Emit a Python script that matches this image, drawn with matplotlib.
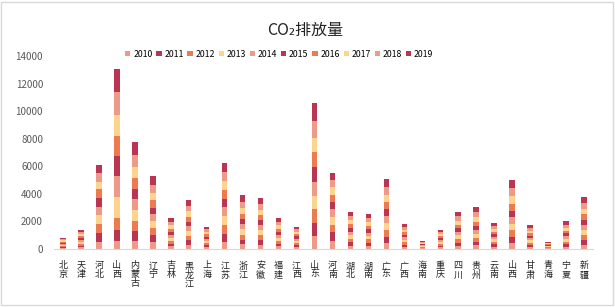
import matplotlib
matplotlib.use("Agg")
import matplotlib.pyplot as plt
import numpy as np
from matplotlib.patches import Rectangle

plt.rcParams['font.family'] = ['Noto Sans CJK SC', 'DejaVu Sans']

# 省份
provinces = ["北京", "天津", "河北", "山西", "内蒙古", "辽宁", "吉林", "黑龙江", "上海", "江苏",
             "浙江", "安徽", "福建", "江西", "山东", "河南", "湖北", "湖南", "广东", "广西",
             "海南", "重庆", "四川", "贵州", "云南", "山西", "甘肃", "青海", "宁夏", "新疆"]

years = ["2010", "2011", "2012", "2013", "2014", "2015", "2016", "2017", "2018", "2019"]

# 各年排放量
y2010 = [70, 118, 532, 605, 557, 484, 191, 303, 137, 508, 331, 315, 191, 139, 920, 557, 230, 218, 436, 156, 50, 117, 229, 257, 161, 424, 148, 45, 171, 323]
y2011 = [74, 125, 653, 800, 726, 508, 203, 321, 145, 605, 350, 333, 203, 147, 968, 653, 244, 231, 436, 166, 53, 124, 242, 272, 170, 449, 157, 48, 181, 342]
y2012 = [78, 132, 605, 850, 774, 532, 214, 339, 153, 653, 370, 352, 214, 155, 1016, 557, 257, 244, 532, 175, 56, 131, 256, 287, 180, 474, 165, 51, 191, 361]
y2013 = [78, 132, 678, 1525, 800, 484, 214, 339, 153, 653, 370, 352, 214, 155, 968, 557, 257, 244, 484, 175, 56, 131, 256, 287, 180, 474, 165, 51, 191, 361]
y2014 = [80, 135, 605, 1550, 800, 508, 218, 346, 156, 605, 377, 359, 218, 158, 968, 581, 263, 249, 484, 178, 57, 134, 261, 293, 183, 484, 169, 52, 195, 369]
y2015 = [80, 136, 653, 1450, 700, 484, 220, 350, 158, 629, 381, 363, 220, 160, 1089, 508, 266, 251, 532, 180, 58, 135, 264, 296, 185, 489, 171, 52, 197, 372]
y2016 = [82, 139, 605, 1450, 800, 532, 225, 357, 161, 653, 389, 370, 225, 163, 1089, 532, 271, 257, 508, 184, 59, 138, 269, 303, 189, 499, 174, 53, 201, 380]
y2017 = [88, 150, 557, 1525, 800, 532, 243, 386, 174, 653, 420, 400, 243, 176, 1089, 557, 293, 277, 532, 199, 64, 149, 291, 327, 204, 538, 188, 57, 217, 410]
y2018 = [93, 158, 605, 1645, 847, 557, 257, 407, 184, 653, 443, 422, 257, 186, 1210, 532, 309, 292, 557, 210, 67, 157, 307, 345, 215, 568, 199, 61, 229, 433]
y2019 = [97, 165, 605, 1695, 968, 653, 265, 422, 189, 629, 459, 434, 265, 191, 1283, 484, 320, 302, 605, 217, 70, 164, 315, 358, 223, 586, 206, 62, 236, 449]

series = [y2010, y2011, y2012, y2013, y2014, y2015, y2016, y2017, y2018, y2019]
colors = ["#EE9A88", "#BA3454", "#EE7A52", "#FDD48E"] * 3

fig = plt.figure(figsize=(6.15, 3.07), dpi=100)
ax = fig.add_axes([0.088, 0.189, 0.876, 0.627])

x = np.arange(len(provinces))
bottom = np.zeros(len(provinces))
for yr, vals, c in zip(years, series, colors):
    ax.bar(x, vals, width=0.3, bottom=bottom, color=c, label=yr)
    bottom += np.array(vals)

ax.set_xlim(-0.5, len(provinces) - 0.5)
ax.set_ylim(0, 14000)
ax.set_yticks(np.arange(0, 14001, 2000))
ax.tick_params(axis='y', length=0, labelsize=7, labelcolor='#595959', pad=8)
ax.set_xticks(x)
ax.set_xticklabels(["\n".join(p) for p in provinces], fontsize=6.5, linespacing=1.0,
                   va='top', color='#222222')
ax.tick_params(axis='x', length=0, pad=9)
for s in ['top', 'right', 'left']:
    ax.spines[s].set_visible(False)
ax.spines['bottom'].set_color('#D9D9D9')

fig.text(0.496, 0.902, "CO₂排放量", ha='center', va='center', fontsize=11.5, color='#222222')
fig.legend(loc='center', bbox_to_anchor=(0.454, 0.824), ncol=10, fontsize=6.3, frameon=False,
           handlelength=0.6, handleheight=0.6, handletextpad=0.3, columnspacing=0.45)

fig.add_artist(Rectangle((0.002, 0.005), 0.995, 0.99, transform=fig.transFigure,
                         fill=False, edgecolor='#D9D9D9', linewidth=1))

fig.savefig("out.png", dpi=100)
